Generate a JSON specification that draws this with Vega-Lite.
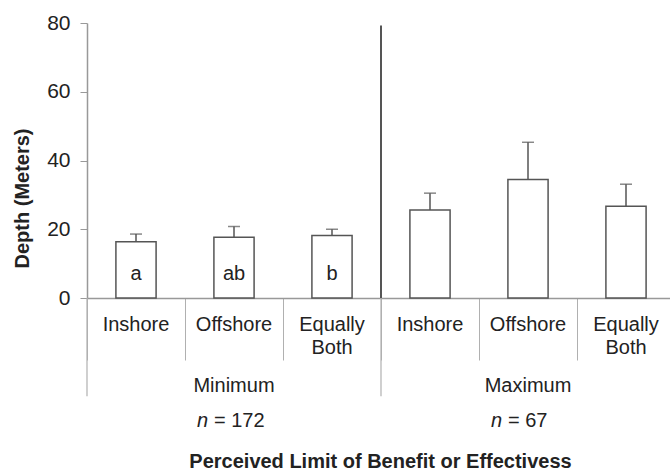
{
  "$schema": "https://vega.github.io/schema/vega-lite/v6.json",
  "width": 588,
  "height": 275,
  "autosize": {"type": "none"},
  "padding": {"left": 87, "top": 23, "right": 0, "bottom": 172},
  "background": "white",
  "config": {
    "view": {"stroke": null},
    "font": "Liberation Sans",
    "text": {"font": "Liberation Sans", "color": "#222"}
  },
  "datasets": {
    "bars": [
      {"key": "Minimum|Inshore", "group": "Minimum", "location": "Inshore", "depth": 16.4, "upper": 18.6, "sig": "a"},
      {"key": "Minimum|Offshore", "group": "Minimum", "location": "Offshore", "depth": 17.7, "upper": 20.8, "sig": "ab"},
      {"key": "Minimum|Equally Both", "group": "Minimum", "location": "Equally Both", "depth": 18.2, "upper": 20.0, "sig": "b"},
      {"key": "Maximum|Inshore", "group": "Maximum", "location": "Inshore", "depth": 25.6, "upper": 30.5, "sig": ""},
      {"key": "Maximum|Offshore", "group": "Maximum", "location": "Offshore", "depth": 34.5, "upper": 45.3, "sig": ""},
      {"key": "Maximum|Equally Both", "group": "Maximum", "location": "Equally Both", "depth": 26.7, "upper": 33.1, "sig": ""}
    ],
    "groups": [
      {"group": "Minimum", "first": "Minimum|Inshore", "mid": "Minimum|Offshore", "n": "= 172"},
      {"group": "Maximum", "first": "Maximum|Inshore", "mid": "Maximum|Offshore", "n": "= 67"}
    ]
  },
  "layer": [
    {
      "data": {"name": "bars"},
      "mark": {"type": "bar", "fill": "white", "stroke": "#555", "strokeWidth": 1.5, "width": {"band": 0.41}},
      "encoding": {
        "x": {
          "field": "key", "type": "nominal",
          "scale": {"type": "band", "domain": ["Minimum|Inshore", "Minimum|Offshore", "Minimum|Equally Both", "Maximum|Inshore", "Maximum|Offshore", "Maximum|Equally Both"], "paddingInner": 0, "paddingOuter": 0},
          "axis": {
            "title": "Perceived Limit of Benefit or Effectivess",
            "labelExpr": "split(split(datum.value, '|')[1], ' ')",
            "labelAngle": 0,
            "bandPosition": 0,
            "labelOffset": 0,
            "tickSize": 62,
            "tickColor": "#b0b0b0",
            "tickWidth": 1,
            "labelPadding": -46,
            "labelFontSize": 20,
            "labelColor": "#222",
            "labelLineHeight": 23,
            "labelBaseline": "top",
            "labelBound": false,
            "labelOverlap": false,
            "labelFlush": false,
            "domainColor": "#999",
            "domainWidth": 1.5,
            "titleFontSize": 20,
            "titleFontWeight": "bold",
            "titleColor": "#222",
            "titleX": 293,
            "titleY": 169,
            "titleBaseline": "alphabetic",
            "titleAlign": "center"
          }
        },
        "y": {
          "field": "depth", "type": "quantitative",
          "scale": {"domain": [0, 80], "nice": false},
          "axis": {
            "title": "Depth (Meters)",
            "values": [0, 20, 40, 60, 80],
            "grid": false,
            "tickSize": 7,
            "tickColor": "#999",
            "labelPadding": 10,
            "labelFontSize": 21,
            "labelColor": "#222",
            "domainColor": "#999",
            "domainWidth": 1.5,
            "titleFontSize": 20,
            "titleFontWeight": "bold",
            "titleColor": "#222",
            "titleX": -65,
            "titleY": 175,
            "titleAngle": -90,
            "titleBaseline": "middle",
            "titleAlign": "center"
          }
        }
      }
    },
    {
      "data": {"name": "bars"},
      "mark": {"type": "rule", "color": "#555", "strokeWidth": 1.5},
      "encoding": {
        "x": {"field": "key", "type": "nominal", "scale": {"type": "band", "domain": ["Minimum|Inshore", "Minimum|Offshore", "Minimum|Equally Both", "Maximum|Inshore", "Maximum|Offshore", "Maximum|Equally Both"], "paddingInner": 0, "paddingOuter": 0}},
        "y": {"field": "depth", "type": "quantitative", "scale": {"domain": [0, 80], "nice": false}},
        "y2": {"field": "upper"}
      }
    },
    {
      "data": {"name": "bars"},
      "mark": {"type": "tick", "color": "#555", "size": 12, "thickness": 1.5},
      "encoding": {
        "x": {"field": "key", "type": "nominal", "scale": {"type": "band", "domain": ["Minimum|Inshore", "Minimum|Offshore", "Minimum|Equally Both", "Maximum|Inshore", "Maximum|Offshore", "Maximum|Equally Both"], "paddingInner": 0, "paddingOuter": 0}},
        "y": {"field": "upper", "type": "quantitative", "scale": {"domain": [0, 80], "nice": false}}
      }
    },
    {
      "data": {"name": "bars"},
      "mark": {"type": "text", "fontSize": 20, "baseline": "alphabetic", "align": "center"},
      "encoding": {
        "x": {"field": "key", "type": "nominal", "scale": {"type": "band", "domain": ["Minimum|Inshore", "Minimum|Offshore", "Minimum|Equally Both", "Maximum|Inshore", "Maximum|Offshore", "Maximum|Equally Both"], "paddingInner": 0, "paddingOuter": 0}},
        "y": {"datum": 5.3, "type": "quantitative", "scale": {"domain": [0, 80], "nice": false}},
        "text": {"field": "sig"}
      }
    },
    {
      "data": {"name": "groups"},
      "transform": [{"filter": "datum.group === 'Maximum'"}],
      "mark": {"type": "rule", "color": "#555", "strokeWidth": 2},
      "encoding": {
        "x": {"field": "first", "type": "nominal", "bandPosition": 0, "scale": {"type": "band", "domain": ["Minimum|Inshore", "Minimum|Offshore", "Minimum|Equally Both", "Maximum|Inshore", "Maximum|Offshore", "Maximum|Equally Both"], "paddingInner": 0, "paddingOuter": 0}},
        "y": {"datum": 79.3, "type": "quantitative", "scale": {"domain": [0, 80], "nice": false}},
        "y2": {"datum": 0}
      }
    },
    {
      "data": {"name": "groups"},
      "mark": {"type": "rule", "color": "#b0b0b0", "strokeWidth": 1.2},
      "encoding": {
        "x": {"field": "first", "type": "nominal", "bandPosition": 0, "scale": {"type": "band", "domain": ["Minimum|Inshore", "Minimum|Offshore", "Minimum|Equally Both", "Maximum|Inshore", "Maximum|Offshore", "Maximum|Equally Both"], "paddingInner": 0, "paddingOuter": 0}},
        "y": {"datum": 0, "type": "quantitative", "scale": {"domain": [0, 80], "nice": false}},
        "y2": {"datum": -28.6}
      }
    },
    {
      "data": {"name": "groups"},
      "mark": {"type": "text", "fontSize": 20, "baseline": "alphabetic", "align": "center"},
      "encoding": {
        "x": {"field": "mid", "type": "nominal", "scale": {"type": "band", "domain": ["Minimum|Inshore", "Minimum|Offshore", "Minimum|Equally Both", "Maximum|Inshore", "Maximum|Offshore", "Maximum|Equally Both"], "paddingInner": 0, "paddingOuter": 0}},
        "y": {"datum": -27.2, "type": "quantitative", "scale": {"domain": [0, 80], "nice": false}},
        "text": {"field": "group"}
      }
    },
    {
      "data": {"name": "groups"},
      "mark": {"type": "text", "fontSize": 20, "fontStyle": "italic", "baseline": "alphabetic", "align": "left", "dx": -37},
      "encoding": {
        "x": {"field": "mid", "type": "nominal", "scale": {"type": "band", "domain": ["Minimum|Inshore", "Minimum|Offshore", "Minimum|Equally Both", "Maximum|Inshore", "Maximum|Offshore", "Maximum|Equally Both"], "paddingInner": 0, "paddingOuter": 0}},
        "y": {"datum": -37.6, "type": "quantitative", "scale": {"domain": [0, 80], "nice": false}},
        "text": {"value": "n"}
      }
    },
    {
      "data": {"name": "groups"},
      "mark": {"type": "text", "fontSize": 20, "baseline": "alphabetic", "align": "left", "dx": -20},
      "encoding": {
        "x": {"field": "mid", "type": "nominal", "scale": {"type": "band", "domain": ["Minimum|Inshore", "Minimum|Offshore", "Minimum|Equally Both", "Maximum|Inshore", "Maximum|Offshore", "Maximum|Equally Both"], "paddingInner": 0, "paddingOuter": 0}},
        "y": {"datum": -37.6, "type": "quantitative", "scale": {"domain": [0, 80], "nice": false}},
        "text": {"field": "n"}
      }
    }
  ]
}
